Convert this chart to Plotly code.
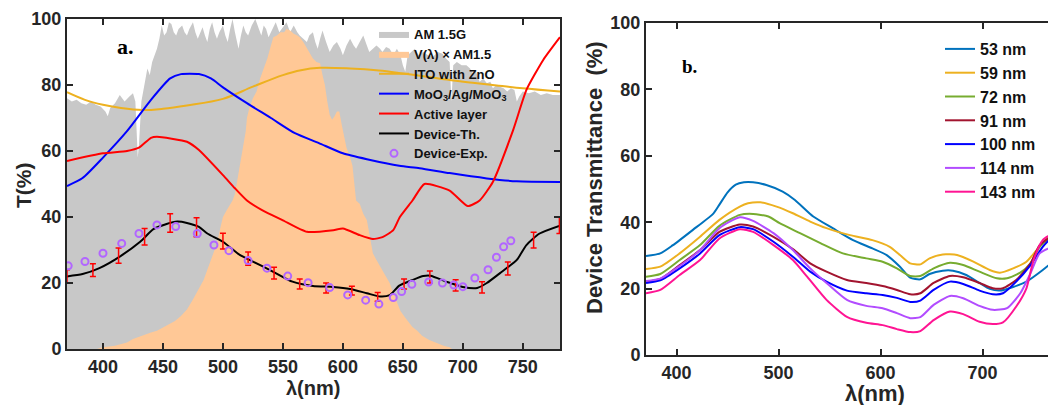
import plotly.graph_objects as go

# ---------------- Panel a data ----------------
am15_x = [370, 374, 378, 382, 386, 390, 394, 398, 402, 404, 406, 410, 414, 418, 422, 425, 427, 429, 430, 432,
          435, 437, 439, 441, 445, 447, 449, 451, 453, 455, 457, 459, 461, 463, 466, 468, 470, 472, 475, 477,
          479, 481, 483, 485, 487, 489, 491, 493, 495, 497, 500, 502, 504, 506, 508, 510, 513, 515, 517, 519,
          521, 524, 527, 530, 532, 534, 536, 538, 541, 544, 547, 550, 553, 556, 559, 562, 564, 567, 570, 572,
          575, 577, 579, 581, 583, 586, 589, 592, 595, 598, 600, 603, 606, 609, 611, 614, 617, 620, 622, 625,
          628, 631, 633, 636, 639, 642, 645, 648, 650, 652, 654, 657, 660, 663, 667, 671, 675, 679, 683, 686,
          689, 690.5, 692, 695, 699, 703, 706, 708, 711, 714, 717, 720, 723, 725, 728, 731, 734, 737, 740, 743,
          745, 747, 750, 755, 760, 765, 770, 775, 781]
am15_y = [76, 75, 75.5, 74.5, 74, 75, 74, 73.5, 72, 70.5, 73, 74.5, 77, 75, 76.5, 77.5, 75, 58, 62, 75,
          81, 85, 83, 87, 91, 94, 98, 95, 96, 99, 98.5, 96, 95, 97, 98, 96, 95, 97, 99, 96,
          94, 96, 97.5, 95, 93, 97, 99, 96, 94, 96, 98, 95, 93, 97, 100, 96, 91, 95, 98, 96,
          95, 98, 100, 97, 95, 98, 97, 94.5, 97, 99, 96, 97.5, 99, 96, 98, 96, 95, 94, 93, 95,
          96, 93, 91, 94, 96.5, 93, 90, 92, 93, 91, 89, 92, 94, 92, 91, 93, 95, 92, 90, 91,
          92, 91, 90, 91.5, 91, 89, 91, 89, 86, 84, 89, 90, 91, 89, 90, 89, 88.5, 90, 89.5, 88,
          87, 75, 86, 87, 86, 86, 85, 83.7, 84, 81, 82, 80.5, 81, 79, 80, 79.5, 79, 78, 79, 78.5,
          75, 76.5, 78, 77.5, 78, 77, 77.5, 77, 77]

vlam_x = [395, 400, 410, 420, 425, 430, 435, 440, 445, 450, 455, 460, 465, 470, 475, 478, 481, 484, 486, 489,
          492, 495, 498, 500, 503, 506, 508, 510, 513, 515, 517, 519, 520, 522, 525, 528, 531, 534, 537, 540,
          542, 545, 548, 551, 553, 556, 559, 562, 564, 567, 570, 573, 575, 578, 581, 583, 585, 587, 589, 591,
          593, 595, 597, 599, 601, 603, 606, 608, 611, 614, 617, 620, 623, 625, 628, 631, 633, 636, 639, 642,
          645, 648, 652, 655, 658, 662, 666, 672, 678, 684, 689, 691]
vlam_y = [0, 0.5, 1, 2, 3, 3.7, 4.5, 5, 5.5, 6.5, 7.5, 8.5, 10, 12, 15, 17, 19, 21, 23, 26,
          29, 32, 37, 40, 42, 44, 45, 47, 53, 57, 61, 66, 70, 73, 76, 78, 82, 85, 88, 92,
          94.5, 95, 96, 96, 97, 96.5, 95.5, 95, 94.5, 93, 91, 89, 88, 87, 86.6, 83, 80, 75, 71, 69.5,
          70.5, 72, 72, 68, 64, 61, 58, 55.5, 45, 44, 41, 39, 33, 29, 27, 25, 24, 22, 20, 17,
          14, 11.5, 9.5, 8, 6.7, 5.5, 4, 2.7, 1.8, 1, 0.5, 0]

ito_x = [370, 385, 400, 415, 433, 450, 470, 500, 525, 550, 565, 581, 606, 630, 650, 670, 689, 710, 730, 750, 781]
ito_y = [77.8, 75.5, 74, 73, 72.4, 72.8, 73.8, 75.8, 79.5, 83, 84.5, 85.2, 85, 84.4, 83.5, 82.5, 81.5, 80.6, 79.8, 79, 78]

moo_x = [370, 383, 400, 420, 440, 456, 465, 480, 490, 500, 520, 540, 560, 580, 600, 620, 647, 664, 689, 720, 745, 781]
moo_y = [49.4, 51.8, 58, 66, 75.5, 82, 83.3, 83.3, 82, 79.3, 74.5, 70, 65.4, 62.4, 59.3, 57.5, 55.5, 54.8, 53.3, 51.7, 50.8, 50.6]

act_x = [370, 400, 420, 430, 440, 445, 470, 480, 500, 510, 520, 533, 550, 570, 592, 600, 614, 625, 633, 642,
         647.5, 658, 668, 689, 704, 714, 725, 742, 753, 767, 781]
act_y = [57, 59.3, 60, 61, 64, 64.3, 62.8, 60.3, 52.7, 48.7, 45, 42, 39, 35.5, 36, 36.5, 34.5, 33.3, 33.9, 36,
         40, 45, 50, 48, 43.3, 45, 50.6, 66.4, 78.5, 87.6, 94.5]

dth_x = [370, 383, 397, 414, 431, 442, 453, 462, 470, 480, 487, 500, 514, 525, 542, 558, 575, 592, 606, 620,
         631, 639, 647, 658, 667, 673, 687, 700, 712, 720, 731, 745, 753, 764, 781]
dth_y = [22, 22.7, 24.5, 28, 32.5, 36.3, 37.9, 38.6, 38.2, 37, 35, 32.5, 28.5, 26.5, 23.4, 20.4, 19.1, 18.8, 18.2, 16.9,
         15.9, 16.3, 19.2, 20.9, 22.1, 22.2, 20.3, 18.8, 18.5, 20, 23, 27, 31.5, 35, 37.4]

dexp_x = [371, 385, 400, 415.6, 430, 445, 460.6, 478.6, 492.5, 505, 521, 536.7, 554, 571, 589, 604, 619, 630, 642,
          649, 657.5, 671.5, 683, 692.5, 700, 710, 721, 728, 734, 740]
dexp_y = [25.2, 26.5, 29, 32, 35, 37.6, 37.1, 35, 31.5, 29.8, 26.8, 24.5, 22.1, 20.1, 18.6, 16.4, 14.8, 13.6, 15.6,
          17.4, 19.6, 20.3, 20, 19.4, 18.9, 21.5, 24, 27.8, 31, 32.8]

eb_x = [370, 391.6, 413, 434.7, 456, 478, 500, 521, 542.6, 564, 586, 607.5, 629, 651, 672.5, 694, 716, 737.5, 759, 780.5]
eb_y = [22, 23.9, 28.3, 34, 38.2, 36.9, 32.7, 27.4, 23, 19.7, 18.5, 17.7, 15.8, 19.7, 21.8, 19.3, 18.7, 24.4, 33, 37.5]
eb_err = [2, 1.9, 2.3, 2.5, 2.8, 2.9, 2.4, 2, 1.8, 1.5, 1.5, 1.3, 1.3, 1.5, 1.8, 1.7, 1.7, 2, 2.4, 2.5]

# ---------------- Panel b data ----------------
b_names = ["53 nm", "59 nm", "72 nm", "91 nm", "100 nm", "114 nm", "143 nm"]
b_colors = ["#0072BD", "#EDB120", "#77AC30", "#A2142F", "#0000FF", "#B24CFF", "#FF1493"]

b53_x = [370, 384, 396, 416, 436, 442, 450, 458, 466, 475, 488, 504, 516, 534, 553, 573, 592, 606, 619, 629, 639,
         648, 661, 671, 684, 697, 707, 717, 730, 743, 759, 772]
b53_y = [29.8, 30.6, 33, 37.7, 42.6, 45.3, 49, 51.3, 52, 52, 51.2, 49.2, 46.7, 41.7, 38.2, 34.6, 32.1, 30.1, 26.6, 23.3, 22.8,
         24.4, 25.4, 25.4, 24.1, 21.7, 19.9, 19.4, 20.5, 22.1, 25.6, 28.9]

b59_x = [370, 384, 403, 423, 442, 462, 470, 482, 498, 514, 531, 547, 570, 592, 609, 619, 629, 639, 648, 661,
         675, 691, 707, 717, 730, 743, 753, 763, 772]
b59_y = [25.9, 26.6, 30.6, 35.6, 40.7, 44.7, 45.7, 46, 44.7, 42.7, 40.2, 38.2, 36.1, 34.6, 32.6, 30.1, 27.6, 27.3, 29.1, 30.3,
         30.1, 28.1, 25.6, 24.8, 26.1, 28.1, 31.6, 35.1, 36.7]

b72_x = [370, 384, 403, 423, 442, 462, 475, 490, 501, 521, 541, 563, 586, 602, 616, 629, 639, 652, 668, 681,
         697, 714, 724, 737, 747, 756, 772]
b72_y = [23.6, 24.4, 28.6, 33.1, 38.9, 42.2, 42.5, 41.7, 39.7, 36.7, 33.7, 30.6, 29.1, 28.1, 26.1, 23.8, 23.8, 26.1, 27.8, 27.1,
         25.1, 23.1, 23.1, 24.8, 27.6, 32.6, 36.7]

b91_x = [370, 384, 403, 423, 442, 462, 475, 495, 514, 531, 547, 567, 586, 602, 616, 629, 639, 652, 668, 681,
         697, 710, 720, 733, 747, 756, 772]
b91_y = [22.1, 22.9, 27.1, 31.6, 37.1, 39.3, 38.7, 35.6, 31.9, 27.6, 25.1, 22.6, 21.7, 20.8, 19.6, 18.3, 18.6, 21.7, 23.8, 23.4,
         21.7, 20.1, 20.1, 22.6, 27.6, 33.1, 36.7]

b100_x = [370, 384, 403, 423, 442, 462, 475, 495, 514, 531, 547, 567, 586, 602, 616, 629, 639, 652, 668, 681,
          697, 710, 720, 733, 747, 759, 772]
b100_y = [21.7, 22.5, 26.1, 30.6, 36.1, 38.5, 37.9, 34.1, 29.6, 25.1, 22.1, 19.4, 18.6, 18.1, 17.2, 16, 16.4, 19.6, 22.1, 21.4,
          19.4, 18.3, 18.6, 22.1, 27.1, 32.6, 36.7]

b114_x = [370, 384, 403, 423, 442, 462, 475, 495, 514, 531, 547, 567, 586, 602, 616, 629, 639, 652, 668, 681,
          697, 710, 724, 737, 747, 756, 772]
b114_y = [22.3, 23, 26.8, 31.6, 38.2, 41.5, 40.4, 36.7, 31.6, 26.1, 21.7, 16.6, 14.8, 14.1, 12.6, 11.1, 11.4, 15.1, 17.8, 17.1,
          14.8, 13.6, 14.1, 18.6, 24.6, 30.6, 33.1]

b143_x = [370, 384, 403, 423, 442, 462, 475, 495, 514, 528, 547, 567, 586, 602, 616, 629, 639, 652, 668, 681,
          697, 710, 720, 733, 743, 750, 759, 772]
b143_y = [18.6, 19.6, 24.1, 28.6, 35.1, 37.9, 37.1, 33.1, 28.6, 23.6, 16.6, 11.5, 9.7, 9, 7.8, 6.9, 7.2, 10.5, 13.1, 12.3,
          10, 9.3, 9.8, 14.6, 20.1, 28.6, 34.6, 37.2]

b_xs = [b53_x, b59_x, b72_x, b91_x, b100_x, b114_x, b143_x]
b_ys = [b53_y, b59_y, b72_y, b91_y, b100_y, b114_y, b143_y]

# page body has an 8px margin; map target pixel positions into the figure
OFF = 8
W, H = 1056 - OFF, 405 - OFF


def fx(px):
    return (px - OFF) / W


def fy(py):
    return 1 - (py - OFF) / H


FONT = "Liberation Sans"
fig = go.Figure()

# ---- panel a traces ----
fig.add_trace(go.Scatter(x=am15_x, y=am15_y, mode="lines", fill="tozeroy", line=dict(width=0, color="#C8C8C8"),
                         fillcolor="#C8C8C8", name="AM 1.5G", xaxis="x", yaxis="y", legend="legend"))
fig.add_trace(go.Scatter(x=vlam_x, y=vlam_y, mode="lines", fill="tozeroy", line=dict(width=0, color="#FFC896"),
                         fillcolor="#FFC896", name="V(λ) × AM1.5", xaxis="x", yaxis="y", legend="legend"))
fig.add_trace(go.Scatter(x=ito_x, y=ito_y, mode="lines", line=dict(color="#EDB120", width=2, shape="spline"),
                         name="ITO with ZnO", xaxis="x", yaxis="y", legend="legend"))
fig.add_trace(go.Scatter(x=moo_x, y=moo_y, mode="lines", line=dict(color="#0000FF", width=2, shape="spline", smoothing=0.6),
                         name="MoO<sub>3</sub>/Ag/MoO<sub>3</sub>", xaxis="x", yaxis="y", legend="legend"))
fig.add_trace(go.Scatter(x=act_x, y=act_y, mode="lines", line=dict(color="#FF0000", width=2, shape="spline", smoothing=0.5),
                         name="Active layer", xaxis="x", yaxis="y", legend="legend"))
fig.add_trace(go.Scatter(x=dth_x, y=dth_y, mode="lines", line=dict(color="#000000", width=2, shape="spline", smoothing=0.6),
                         name="Device-Th.", xaxis="x", yaxis="y", legend="legend"))
fig.add_trace(go.Scatter(x=eb_x, y=eb_y, mode="markers", marker=dict(size=1, color="rgba(0,0,0,0)"),
                         error_y=dict(type="data", array=eb_err, color="#FF0000", thickness=1.5, width=3),
                         showlegend=False, xaxis="x", yaxis="y"))
fig.add_trace(go.Scatter(x=dexp_x, y=dexp_y, mode="markers",
                         marker=dict(symbol="circle-open", size=7, color="#B266FF", line=dict(width=2, color="#B266FF")),
                         name="Device-Exp.", xaxis="x", yaxis="y", legend="legend"))

# ---- panel b traces ----
for nm, col, xs, ys in zip(b_names, b_colors, b_xs, b_ys):
    fig.add_trace(go.Scatter(x=xs, y=ys, mode="lines", line=dict(color=col, width=2, shape="spline", smoothing=0.6),
                             name=nm, xaxis="x2", yaxis="y2", legend="legend2", legendgroup=nm))

axis_common = dict(showline=True, linecolor="#262626", linewidth=2, ticks="inside", ticklen=6, tickwidth=1.5,
                   tickcolor="#262626", showgrid=False, zeroline=False, automargin=False,
                   tickfont=dict(family=FONT, size=18, color="#262626", weight="bold"))

fig.update_layout(
    width=W, height=H, margin=dict(l=0, r=0, t=0, b=0, autoexpand=False),
    paper_bgcolor="white", plot_bgcolor="white",
    xaxis=dict(domain=[fx(67), fx(560)], range=[370, 781], tickvals=[400, 450, 500, 550, 600, 650, 700, 750],
               mirror="ticks", anchor="y", **axis_common),
    yaxis=dict(domain=[fy(349), fy(19)], range=[0, 100], tickvals=[0, 20, 40, 60, 80, 100],
               mirror="ticks", anchor="x", **axis_common),
    xaxis2=dict(domain=[fx(646), 1.0], range=[370, 772], tickvals=[400, 500, 600, 700],
                mirror="ticks", anchor="y2", **axis_common),
    yaxis2=dict(domain=[fy(355), fy(23)], range=[0, 100], tickvals=[0, 20, 40, 60, 80, 100],
                mirror=False, anchor="x2", **axis_common),
    legend=dict(x=fx(374), y=fy(19), xanchor="left", yanchor="top", bgcolor="rgba(0,0,0,0)",
                font=dict(family=FONT, size=13, color="#111", weight="bold"), itemwidth=30, tracegroupgap=0),
    legend2=dict(x=fx(940), y=fy(32), xanchor="left", yanchor="top", bgcolor="rgba(0,0,0,0)",
                 font=dict(family=FONT, size=16, color="#111", weight="bold"), itemwidth=30, tracegroupgap=0),
    annotations=[
        dict(text="a.", x=fx(125), y=fy(46), xref="paper", yref="paper", showarrow=False,
             xanchor="center", yanchor="middle",
             font=dict(family="Liberation Serif", size=22, color="black", weight="bold")),
        dict(text="b.", x=fx(689), y=fy(66), xref="paper", yref="paper", showarrow=False,
             xanchor="center", yanchor="middle",
             font=dict(family="Liberation Serif", size=19, color="black", weight="bold")),
        dict(text="λ(nm)", x=fx(313), y=fy(388), xref="paper", yref="paper", showarrow=False,
             xanchor="center", yanchor="middle",
             font=dict(family=FONT, size=20, color="#262626", weight="bold")),
        dict(text="λ(nm)", x=fx(875), y=fy(393), xref="paper", yref="paper", showarrow=False,
             xanchor="center", yanchor="middle",
             font=dict(family=FONT, size=22, color="#262626", weight="bold")),
        dict(text="T(%)", x=fx(23), y=fy(185), xref="paper", yref="paper", showarrow=False, textangle=-90,
             xanchor="center", yanchor="middle",
             font=dict(family=FONT, size=21, color="#262626", weight="bold")),
        dict(text="Device Transmittance  (%)", x=fx(594), y=fy(178), xref="paper", yref="paper", showarrow=False,
             textangle=-90, xanchor="center", yanchor="middle",
             font=dict(family=FONT, size=22, color="#262626", weight="bold")),
    ],
)

fig.write_html("out.html")
